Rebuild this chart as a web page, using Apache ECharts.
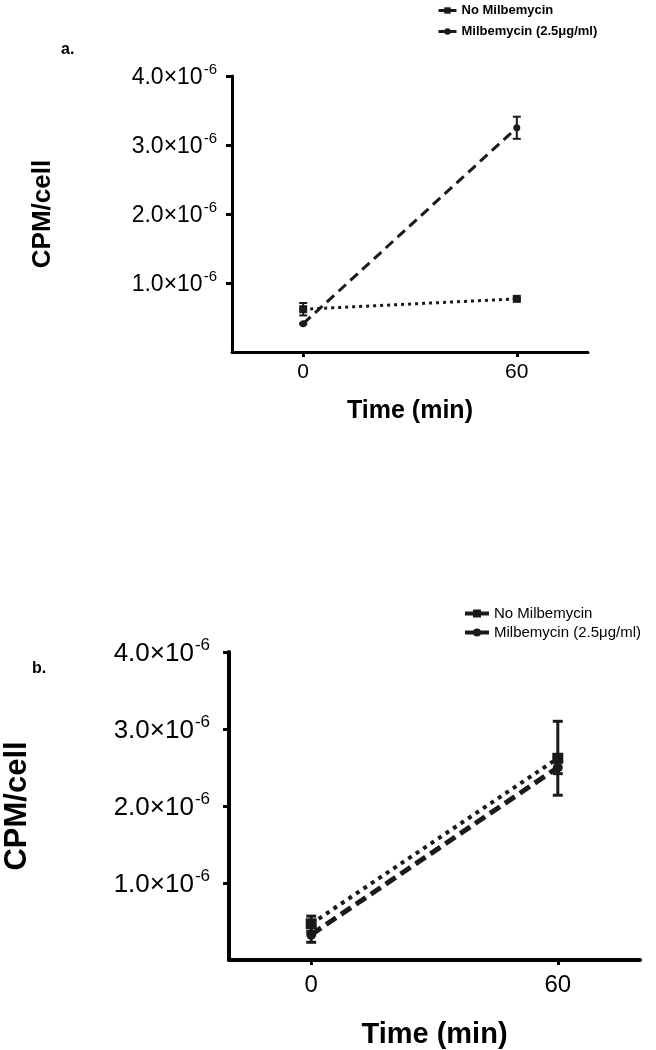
<!DOCTYPE html>
<html>
<head>
<meta charset="utf-8">
<script src="https://cdn.jsdelivr.net/npm/echarts@6/dist/echarts.min.js"></script>
<style>
  html, body { margin: 0; padding: 0; background: #fff; }
  #chart { width: 656px; height: 1050px; }
</style>
</head>
<body>
<div id="chart"></div>
<script>
// data (CPM per cell)
const timePoints = [0, 60]
const seriesNames = ['No Milbemycin', 'Milbemycin (2.5μg/ml)']
const yTicks = [1e-6, 2e-6, 3e-6, 4e-6]
const xTicks = [0, 60]

// panel a
const aNoMil = [0.62e-6, 0.77e-6]
const aNoMilErr = [0.09e-6, 0.01e-6]
const aMil = [0.41e-6, 3.25e-6]
const aMilErr = [0.01e-6, 0.16e-6]

// panel b
const bNoMil = [0.47e-6, 2.62e-6]
const bNoMilErr = [0.10e-6, 0.48e-6]
const bMil = [0.33e-6, 2.50e-6]
const bMilErr = [0.10e-6, 0.08e-6]

const ink = '#1a1a1a'
const font = '"Liberation Sans", Arial, sans-serif'

function pairs (vals) {
  return timePoints.map((t, i) => [t, vals[i]])
}
function errData (vals, errs) {
  return timePoints.map((t, i) => [t, vals[i] - errs[i], vals[i] + errs[i]])
}

function errorSeries (vals, errs, idx, cap, lw) {
  return {
    type: 'custom',
    xAxisIndex: idx,
    yAxisIndex: idx,
    silent: true,
    z: 5,
    data: errData(vals, errs),
    renderItem: function (params, api) {
      let x = api.value(0)
      let lo = api.coord([x, api.value(1)])
      let hi = api.coord([x, api.value(2)])
      let st = { stroke: ink, lineWidth: lw }
      return {
        type: 'group',
        children: [
          { type: 'line', shape: { x1: lo[0], y1: lo[1], x2: hi[0], y2: hi[1] }, style: st },
          { type: 'line', shape: { x1: hi[0] - cap, y1: hi[1], x2: hi[0] + cap, y2: hi[1] }, style: st },
          { type: 'line', shape: { x1: lo[0] - cap, y1: lo[1], x2: lo[0] + cap, y2: lo[1] }, style: st }
        ]
      }
    }
  }
}

function lineSeries (name, vals, idx, symbol, size, dash, width) {
  return {
    name: name,
    type: 'line',
    xAxisIndex: idx,
    yAxisIndex: idx,
    data: pairs(vals),
    symbol: symbol,
    symbolSize: size,
    showSymbol: true,
    z: 4,
    itemStyle: { color: ink },
    lineStyle: { color: ink, width: width, type: dash, cap: 'butt' },
    emphasis: { disabled: true },
    animation: false
  }
}

function yLabel (v) {
  let n = Math.round(v * 1e7) / 10
  if (n === 0) return ''
  return '{m|' + n.toFixed(1) + '×10}{e|-6}'
}

function xAxisCfg (idx, lw, fs, nameFs, margin, nameGap) {
  return {
    type: 'value',
    gridIndex: idx,
    min: -20,
    max: 80,
    name: 'Time (min)',
    nameLocation: 'middle',
    nameGap: nameGap,
    nameTextStyle: { fontFamily: font, fontSize: nameFs, fontWeight: 'bold', color: '#000' },
    axisLine: { onZero: false, lineStyle: { color: '#000', width: lw } },
    axisTick: { show: true, customValues: xTicks, length: 5, lineStyle: { color: '#000', width: 3 } },
    axisLabel: { customValues: xTicks, margin: margin, fontFamily: font, fontSize: fs, color: '#000' },
    splitLine: { show: false }
  }
}

function yAxisCfg (idx, lw, fs, sup, nameFs, margin, nameGap) {
  return {
    type: 'value',
    gridIndex: idx,
    min: 0,
    max: 4e-6,
    name: 'CPM/cell',
    nameLocation: 'middle',
    nameRotate: 90,
    nameGap: nameGap,
    nameTextStyle: { fontFamily: font, fontSize: nameFs, fontWeight: 'bold', color: '#000' },
    axisLine: { show: true, onZero: false, lineStyle: { color: '#000', width: lw } },
    axisTick: { show: true, customValues: yTicks, length: 6, lineStyle: { color: '#000', width: 3 } },
    axisLabel: {
      customValues: yTicks,
      margin: margin,
      formatter: yLabel,
      rich: {
        m: { fontFamily: font, fontSize: fs, color: '#000', lineHeight: fs + 4, verticalAlign: 'bottom' },
        e: { fontFamily: font, fontSize: sup, color: '#000', lineHeight: fs + 4, verticalAlign: 'top', padding: [0, 0, 0, 1] }
      }
    },
    splitLine: { show: false }
  }
}

let myChart = echarts.init(document.getElementById('chart'), null, { renderer: 'canvas' })

let option = {
  backgroundColor: '#fff',
  animation: false,
  title: [
    { text: 'a.', left: 56, top: 37, textStyle: { fontFamily: font, fontSize: 16, fontWeight: 'bold', color: '#000' } },
    { text: 'b.', left: 27, top: 656, textStyle: { fontFamily: font, fontSize: 16, fontWeight: 'bold', color: '#000' } }
  ],
  legend: [
    {
      data: seriesNames,
      orient: 'vertical',
      left: 432,
      top: -1,
      itemWidth: 18,
      itemHeight: 8,
      itemGap: 8,
      selectedMode: false,
      lineStyle: { type: 'solid', width: 3 },
      textStyle: { fontFamily: font, fontSize: 13, fontWeight: 'bold', color: '#000' }
    },
    {
      data: seriesNames,
      orient: 'vertical',
      left: 458,
      top: 601,
      itemWidth: 24,
      itemHeight: 10,
      itemGap: 4,
      selectedMode: false,
      lineStyle: { type: 'solid', width: 4 },
      textStyle: { fontFamily: font, fontSize: 15, color: '#000' }
    }
  ],
  grid: [
    { left: 232, top: 76, width: 356, height: 276, containLabel: false, outerBoundsMode: 'none' },
    { left: 229, top: 652, width: 411, height: 308, containLabel: false, outerBoundsMode: 'none' }
  ],
  xAxis: [
    xAxisCfg(0, 3, 21, 25, 10, 47),
    xAxisCfg(1, 4, 24, 29, 13, 60)
  ],
  yAxis: [
    yAxisCfg(0, 3, 23, 15, 26, 15, 176),
    yAxisCfg(1, 4, 26, 17, 31, 19, 196)
  ],
  series: [
    lineSeries(seriesNames[0], aNoMil, 0, 'rect', 8, [3, 4], 3),
    lineSeries(seriesNames[1], aMil, 0, 'circle', 7, [10, 6], 3),
    errorSeries(aNoMil, aNoMilErr, 0, 4, 2),
    errorSeries(aMil, aMilErr, 0, 4, 2),
    lineSeries(seriesNames[0], bNoMil, 1, 'rect', 11, [4, 5], 4),
    lineSeries(seriesNames[1], bMil, 1, 'circle', 10, [12, 6], 5),
    errorSeries(bNoMil, bNoMilErr, 1, 5, 3),
    errorSeries(bMil, bMilErr, 1, 5, 3)
  ]
}
myChart.setOption(option, true)
</script>
</body>
</html>
